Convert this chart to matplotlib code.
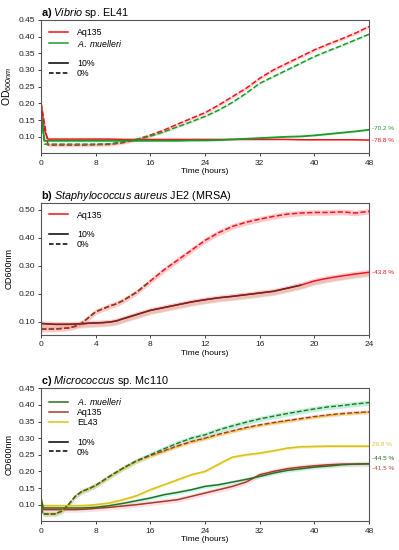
import matplotlib
matplotlib.use("Agg")
import matplotlib.pyplot as plt
from matplotlib.lines import Line2D
import numpy as np

plt.rcParams['font.family'] = ['Liberation Sans', 'DejaVu Sans']
plt.rcParams['mathtext.fontset'] = 'custom'
plt.rcParams['mathtext.rm'] = 'Liberation Sans'
plt.rcParams['mathtext.it'] = 'Liberation Sans:italic'
plt.rcParams['mathtext.bf'] = 'Liberation Sans:bold'

# ---------------- data: panel a (Vibrio sp. EL41) ----------------
t_a = [0, 0.5, 1, 2, 4, 6, 8, 10, 12, 14, 16, 18, 20, 22, 24, 26, 28, 30, 32,
       34, 36, 38, 40, 42, 44, 46, 48]
a_aq_0 = [0.20, 0.14, 0.075, 0.075, 0.075, 0.075, 0.076, 0.077, 0.082, 0.092, 0.105,
          0.12, 0.138, 0.155, 0.172, 0.195, 0.22, 0.245, 0.275, 0.30, 0.32, 0.34,
          0.36, 0.377, 0.393, 0.41, 0.43]
a_mu_0 = [0.17, 0.078, 0.078, 0.078, 0.078, 0.078, 0.078, 0.079, 0.085, 0.092, 0.102,
          0.115, 0.13, 0.145, 0.161, 0.18, 0.203, 0.23, 0.26, 0.28, 0.30, 0.32,
          0.34, 0.357, 0.373, 0.39, 0.407]
a_aq_10 = [0.20, 0.12, 0.093, 0.093, 0.093, 0.093, 0.093, 0.093, 0.092, 0.092, 0.092,
           0.092, 0.092, 0.092, 0.092, 0.092, 0.092, 0.092, 0.092, 0.092, 0.092,
           0.091, 0.091, 0.091, 0.091, 0.091, 0.090]
a_mu_10 = [0.17, 0.088, 0.088, 0.088, 0.088, 0.088, 0.088, 0.088, 0.088, 0.088, 0.088,
           0.088, 0.088, 0.089, 0.089, 0.090, 0.092, 0.094, 0.096, 0.098, 0.100,
           0.101, 0.104, 0.108, 0.112, 0.116, 0.121]
a_labels = ["-70.2 %", "-78.8 %"]
a_label_y = [0.124, 0.090]

# ---------------- data: panel b (S. aureus JE2) ----------------
t_b = [0, 1, 2, 2.5, 3, 3.5, 4, 4.5, 5, 5.5, 6, 7, 8, 9, 10, 11, 12, 13, 14, 15,
       16, 17, 18, 19, 20, 21, 22, 23, 24]
b_aq_0 = [0.073, 0.073, 0.077, 0.083, 0.095, 0.115, 0.135, 0.145, 0.155, 0.163,
          0.175, 0.205, 0.245, 0.285, 0.32, 0.355, 0.39, 0.418, 0.44, 0.455, 0.466,
          0.476, 0.484, 0.488, 0.49, 0.49, 0.492, 0.488, 0.494]
b_aq_10 = [0.093, 0.09, 0.09, 0.091, 0.092, 0.094, 0.095, 0.096, 0.098, 0.102, 0.11,
           0.125, 0.14, 0.15, 0.16, 0.17, 0.178, 0.185, 0.19, 0.196, 0.202, 0.208,
           0.219, 0.23, 0.245, 0.255, 0.263, 0.27, 0.276]
b_ctrl_0_end = 8      # brown overlay of the 0% curve up to this time
b_ctrl_10_end = 19    # brown overlay of the 10% curve up to this time
b_labels = ["-43.8 %"]
b_label_y = [0.276]

# ---------------- data: panel c (Micrococcus sp. Mc110) ----------------
t_c = [0, 0.3, 1, 2, 3, 4, 5, 6, 7, 8, 10, 12, 14, 16, 18, 20, 22, 24, 26, 28, 30,
       32, 34, 36, 38, 40, 42, 44, 46, 48]
c_mu_0 = [0.09, 0.072, 0.072, 0.072, 0.08, 0.10, 0.125, 0.14, 0.148, 0.158, 0.185,
          0.21, 0.232, 0.25, 0.268, 0.285, 0.30, 0.31, 0.325, 0.337, 0.348, 0.358,
          0.366, 0.374, 0.381, 0.388, 0.394, 0.398, 0.403, 0.407]
c_aq_0 = [0.09, 0.072, 0.072, 0.072, 0.08, 0.10, 0.125, 0.14, 0.148, 0.158, 0.185,
          0.21, 0.232, 0.248, 0.262, 0.277, 0.29, 0.30, 0.312, 0.322, 0.332, 0.34,
          0.347, 0.353, 0.359, 0.365, 0.37, 0.374, 0.377, 0.379]
c_el_0 = [0.09, 0.072, 0.072, 0.072, 0.08, 0.10, 0.125, 0.14, 0.148, 0.157, 0.183,
          0.208, 0.23, 0.246, 0.26, 0.275, 0.288, 0.298, 0.31, 0.32, 0.33, 0.338,
          0.345, 0.351, 0.357, 0.363, 0.368, 0.372, 0.375, 0.378]
c_mu_10 = [0.12, 0.09, 0.09, 0.09, 0.09, 0.09, 0.09, 0.09, 0.091, 0.092, 0.097,
           0.104, 0.112, 0.12, 0.13, 0.137, 0.145, 0.155, 0.16, 0.168, 0.176, 0.185,
           0.195, 0.203, 0.208, 0.213, 0.216, 0.22, 0.222, 0.223]
c_aq_10 = [0.11, 0.085, 0.085, 0.085, 0.085, 0.085, 0.085, 0.086, 0.087, 0.089,
           0.092, 0.096, 0.10, 0.105, 0.11, 0.115, 0.125, 0.135, 0.145, 0.155, 0.168,
           0.19, 0.20, 0.208, 0.213, 0.217, 0.22, 0.222, 0.222, 0.223]
c_el_10 = [0.115, 0.097, 0.097, 0.097, 0.097, 0.097, 0.097, 0.097, 0.098, 0.10,
           0.105, 0.115, 0.127, 0.145, 0.16, 0.175, 0.19, 0.20, 0.222, 0.243, 0.25,
           0.255, 0.262, 0.27, 0.274, 0.275, 0.276, 0.276, 0.276, 0.276]
c_labels = ["26.8 %", "-44.5 %", "-41.5 %"]
c_label_y = [0.2795, 0.2385, 0.2077]

RED = "#f0141e"
GREEN = "#1a9a2a"
DGREEN = "#2f6e1e"
BROWN = "#a83c22"
DBROWN = "#6e2a18"
YELLOW = "#dcc21a"

fig = plt.figure(figsize=(3.99, 5.5), dpi=100)
L, W = 0.103, 0.822
ax_a = fig.add_axes([L, 0.721, W, 0.243])
ax_b = fig.add_axes([L, 0.391, W, 0.2405])
ax_c = fig.add_axes([L, 0.0522, W, 0.2418])

TICKFS = 6
LEGFS = 6.3


def style(ax, xmax, xticks, ylim, yticks, ylabel):
    ax.set_xlim(0, xmax)
    ax.set_ylim(*ylim)
    ax.set_xticks(xticks)
    ax.set_yticks(yticks)
    ax.set_yticklabels([f"{v:.2f}" for v in yticks])
    ax.tick_params(labelsize=TICKFS, length=2.5, width=0.6, pad=2, colors="#222222")
    for s in ax.spines.values():
        s.set_color("#555555")
        s.set_linewidth(0.8)
    ax.set_xlabel("Time (hours)", fontsize=TICKFS, labelpad=1)
    ax.set_ylabel(ylabel, fontsize=6.5, labelpad=3)


def band(ax, t, y, w, color, alpha):
    y = np.asarray(y)
    ax.fill_between(t, y - w, y + w, color=color, alpha=alpha, lw=0)


def pct_labels(ax, labels, ys, colors):
    tr = ax.get_yaxis_transform()
    for lab, y, c in zip(labels, ys, colors):
        ax.text(1.01, y, lab, transform=tr, fontsize=4.6, color=c, va="center",
                ha="left", clip_on=False)


LEG_KW = dict(loc="upper left", frameon=False, fontsize=LEGFS, handlelength=2.2,
              labelspacing=0.1, borderaxespad=0.5, handletextpad=1.0)

# ---------------- panel a ----------------
ax = ax_a
band(ax, t_a, a_aq_0, 0.005, "#ff8080", 0.35)
band(ax, t_a, a_mu_0, 0.003, "#60c060", 0.3)
band(ax, t_a, a_aq_10, 0.002, "#ff8080", 0.3)
band(ax, t_a, a_mu_10, 0.002, "#60c060", 0.3)
ax.plot(t_a, a_aq_10, color=RED, lw=1.1)
ax.plot(t_a, a_mu_10, color=GREEN, lw=1.3)
ax.plot(t_a, a_aq_0, color=RED, lw=1.1, ls=(0, (3.5, 1.5)))
ax.plot(t_a, a_mu_0, color=GREEN, lw=1.1, ls=(0, (3.5, 1.5)))
style(ax, 48, range(0, 49, 8), (0.05, 0.45), np.arange(0.10, 0.451, 0.05),
      r"OD$_{600nm}$")
ax.yaxis.label.set_size(7.5)
ax.set_title(r"$\bf{a)}$ $\it{Vibrio}$ sp. EL41", loc="left", fontsize=7.8, pad=3)
h = [Line2D([], [], color=RED, lw=1.1), Line2D([], [], color=GREEN, lw=1.1),
     Line2D([], [], color="none"),
     Line2D([], [], color="black", lw=1.1), Line2D([], [], color="black", lw=1.1, ls=(0, (3, 1.5)))]
labs = ["Aq135", r"$\it{A.\ muelleri}$", "", "10%", "0%"]
ax.legend(h, labs, **LEG_KW)
pct_labels(ax, a_labels, a_label_y, [GREEN, RED])

# ---------------- panel b ----------------
ax = ax_b
tb = np.asarray(t_b)
b0 = np.asarray(b_aq_0)
b10 = np.asarray(b_aq_10)
ax.fill_between(tb, b10 - 0.012, b10 + 0.01, color="#ff9db0", alpha=0.55, lw=0)
ax.fill_between(tb, b10 - 0.015, b10 - 0.002, color="#d8b89c", alpha=0.45, lw=0)
ax.fill_between(tb, b0 - 0.01, b0 + 0.01, color="#ff9d9d", alpha=0.55, lw=0)
ax.plot(tb, b10, color=RED, lw=1.1)
ax.plot(tb, b0, color=RED, lw=1.1, ls=(0, (3.5, 1.5)))
m0 = tb <= b_ctrl_0_end
m10 = tb <= b_ctrl_10_end
ax.plot(tb[m10], b10[m10], color=DBROWN, lw=1.1)
ax.plot(tb[m0], b0[m0], color="#7a4a22", lw=1.1, ls=(0, (3.5, 1.5)))
style(ax, 24, range(0, 25, 4), (0.052, 0.525), np.arange(0.10, 0.501, 0.10), "OD600nm")
ax.set_title(r"$\bf{b)}$ $\it{Staphylococcus\ aureus}$ JE2 (MRSA)", loc="left",
             fontsize=7.8, pad=3)
h = [Line2D([], [], color=RED, lw=1.1), Line2D([], [], color="none"),
     Line2D([], [], color="black", lw=1.1), Line2D([], [], color="black", lw=1.1, ls=(0, (3, 1.5)))]
labs = ["Aq135", "", "10%", "0%"]
ax.legend(h, labs, **LEG_KW)
pct_labels(ax, b_labels, b_label_y, [RED])

# ---------------- panel c ----------------
ax = ax_c
band(ax, t_c, c_mu_0, 0.008, "#70e0b0", 0.45)
band(ax, t_c, c_aq_0, 0.006, "#ffb0c0", 0.5)
band(ax, t_c, c_el_0, 0.004, "#f0e080", 0.45)
band(ax, t_c, c_mu_10, 0.006, "#80f0e0", 0.45)
band(ax, t_c, c_aq_10, 0.008, "#ffc0d0", 0.5)
band(ax, t_c, c_el_10, 0.004, "#f0e080", 0.5)
ax.plot(t_c, c_el_10, color=YELLOW, lw=1.2)
ax.plot(t_c, c_aq_10, color=BROWN, lw=1.1)
ax.plot(t_c, c_mu_10, color=DGREEN, lw=1.1)
ax.plot(t_c, c_el_0, color=YELLOW, lw=1.2, ls=(0, (3.5, 1.5)))
ax.plot(t_c, c_aq_0, color=BROWN, lw=1.0, ls=(0, (3.5, 1.5)))
ax.plot(t_c, c_mu_0, color=DGREEN, lw=1.0, ls=(0, (3.5, 1.5)))
style(ax, 48, range(0, 49, 8), (0.05, 0.45), np.arange(0.10, 0.451, 0.05), "OD600nm")
ax.set_title(r"$\bf{c)}$ $\it{Micrococcus}$ sp. Mc110", loc="left", fontsize=7.8, pad=3)
h = [Line2D([], [], color=DGREEN, lw=1.1), Line2D([], [], color=BROWN, lw=1.1),
     Line2D([], [], color=YELLOW, lw=1.1), Line2D([], [], color="none"),
     Line2D([], [], color="black", lw=1.1), Line2D([], [], color="black", lw=1.1, ls=(0, (3, 1.5)))]
labs = [r"$\it{A.\ muelleri}$", "Aq135", "EL43", "", "10%", "0%"]
ax.legend(h, labs, **LEG_KW)
pct_labels(ax, c_labels, c_label_y, ["#e0c040", DGREEN, "#c04a30"])

fig.savefig("out.png", dpi=100)
